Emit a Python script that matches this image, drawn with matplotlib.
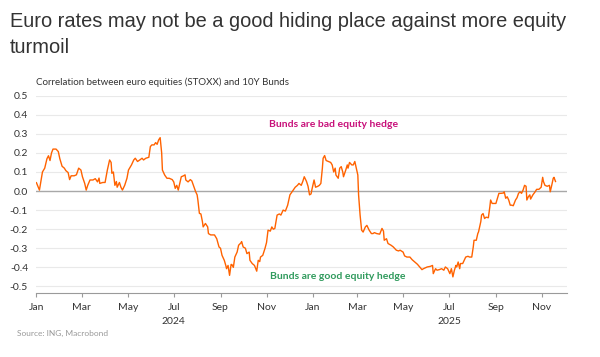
import matplotlib
matplotlib.use("Agg")
import matplotlib.pyplot as plt
import numpy as np
import pandas as pd

# correlation between STOXX and 10Y Bunds
# days counted from 1 Jan 2024
days = [0, 4, 8, 11, 14, 16, 18, 20, 22, 26, 29, 31, 34, 37, 39, 42, 44, 46, 50, 53,
        56, 59, 61, 64, 66, 68, 71, 75, 78, 81, 83, 84, 88, 91, 94, 97, 99, 100, 102, 104,
        106, 107, 110, 112, 114, 117, 120, 122, 126, 129, 131, 134, 137, 140, 142, 145, 149, 151, 153, 156,
        158, 160, 162, 164, 166, 167, 170, 173, 176, 180, 182, 184, 186, 188, 190, 192, 195, 197, 198, 201,
        204, 206, 209, 211, 213, 214, 216, 218, 220, 221, 224, 227, 228, 231, 234, 236, 239, 242, 244, 246,
        249, 251, 252, 254, 256, 258, 259, 261, 263, 266, 268, 271, 272, 274, 277, 279, 282, 283, 286, 289,
        290, 292, 294, 296, 297, 300, 303, 305, 307, 310, 312, 314, 316, 319, 322, 324, 327, 330, 333, 336,
        339, 343, 346, 348, 351, 353, 355, 358, 360, 362, 364, 365, 368, 370, 373, 375, 377, 379, 380, 382,
        384, 387, 390, 392, 394, 396, 397, 400, 402, 404, 406, 407, 410, 412, 413, 415, 418, 420, 422, 423,
        426, 427, 429, 431, 433, 436, 438, 441, 444, 446, 448, 451, 455, 458, 460, 461, 464, 466, 470, 473,
        477, 480, 482, 486, 488, 491, 495, 498, 501, 505, 508, 511, 513, 518, 522, 525, 526, 529, 531, 534,
        537, 540, 542, 545, 548, 550, 552, 554, 556, 557, 559, 561, 562, 565, 567, 569, 572, 574, 577, 579,
        580, 583, 585, 586, 589, 590, 592, 594, 596, 599, 601, 602, 604, 606, 609, 611, 613, 616, 619, 620,
        622, 624, 626, 628, 630, 632, 635, 637, 639, 641, 643, 645, 647, 649, 650, 652, 654, 655, 658, 661,
        663, 666, 669, 671, 672, 674, 677, 680, 681, 683, 685, 686, 688]
corr = [0.044, 0.005, 0.10, 0.12, 0.17, 0.185, 0.16, 0.20, 0.22, 0.22, 0.207, 0.17, 0.13, 0.12, 0.107, 0.097, 0.06, 0.08, 0.08, 0.085,
        0.12, 0.11, 0.075, 0.04, 0.005, 0.03, 0.058, 0.058, 0.065, 0.048, 0.068, 0.04, 0.045, 0.045, 0.11, 0.163, 0.15, 0.093, 0.10, 0.03,
        0.05, 0.02, 0.045, 0.02, 0.005, 0.03, 0.067, 0.11, 0.137, 0.163, 0.172, 0.155, 0.163, 0.172, 0.163, 0.172, 0.177, 0.233, 0.242, 0.242,
        0.254, 0.245, 0.268, 0.28, 0.20, 0.11, 0.084, 0.067, 0.067, 0.06, 0.048, 0.014, 0.03, 0.005, 0.04, 0.075, 0.08, 0.085, 0.058, 0.048,
        0.06, 0.053, 0.02, -0.003, -0.02, -0.047, -0.117, -0.12, -0.16, -0.188, -0.17, -0.188, -0.223, -0.23, -0.23, -0.23, -0.25, -0.293, -0.30, -0.337,
        -0.363, -0.39, -0.407, -0.39, -0.442, -0.385, -0.385, -0.40, -0.346, -0.32, -0.284, -0.272, -0.265, -0.293, -0.30, -0.328, -0.32, -0.363, -0.38, -0.39,
        -0.40, -0.42, -0.363, -0.37, -0.346, -0.337, -0.30, -0.27, -0.205, -0.21, -0.188, -0.2, -0.196, -0.126, -0.12, -0.126, -0.10, -0.105, -0.074, -0.02,
        -0.003, 0.02, 0.03, 0.04, 0.03, 0.05, 0.075, 0.05, 0.025, -0.02, -0.015, 0.005, 0.058, 0.02, 0.025, 0.03, 0.04, 0.12, 0.172, 0.186,
        0.16, 0.155, 0.15, 0.137, 0.10, 0.12, 0.084, 0.067, 0.12, 0.128, 0.10, 0.075, 0.11, 0.137, 0.12, 0.15, 0.137, 0.137, 0.155, 0.137,
        0.084, -0.02, -0.126, -0.205, -0.215, -0.188, -0.18, -0.205, -0.223, -0.223, -0.218, -0.223, -0.226, -0.196, -0.21, -0.258, -0.25, -0.275, -0.284, -0.293,
        -0.31, -0.314, -0.31, -0.32, -0.34, -0.346, -0.346, -0.36, -0.37, -0.384, -0.398, -0.412, -0.407, -0.398, -0.395, -0.39, -0.433, -0.407, -0.415, -0.412,
        -0.407, -0.415, -0.398, -0.407, -0.433, -0.407, -0.45, -0.415, -0.39, -0.398, -0.372, -0.407, -0.38, -0.38, -0.363, -0.346, -0.342, -0.346, -0.346, -0.293,
        -0.258, -0.258, -0.223, -0.214, -0.16, -0.126, -0.118, -0.144, -0.137, -0.14, -0.082, -0.047, -0.065, -0.065, -0.065, -0.038, -0.012, -0.012, -0.01, -0.004,
        -0.038, -0.03, -0.047, -0.074, -0.074, -0.077, -0.047, -0.035, -0.012, -0.004, -0.012, 0.005, 0.03, 0.025, -0.047, -0.03, -0.02, -0.042, -0.02, -0.004,
        0.009, 0.009, 0.02, 0.072, 0.05, 0.03, 0.025, 0.03, -0.004, 0.03, 0.067, 0.072, 0.05]

tick_dates = ["2024-01-01", "2024-03-01", "2024-05-01", "2024-07-01", "2024-09-01", "2024-11-01",
              "2025-01-01", "2025-03-01", "2025-05-01", "2025-07-01", "2025-09-01", "2025-11-01"]
tick_labels = ["Jan", "Mar", "May", "Jul\n2024", "Sep", "Nov",
               "Jan", "Mar", "May", "Jul\n2025", "Sep", "Nov"]
yticks = [-0.5, -0.4, -0.3, -0.2, -0.1, 0.0, 0.1, 0.2, 0.3, 0.4, 0.5]

title = "Euro rates may not be a good hiding place against more equity\nturmoil"
subtitle = "Correlation between euro equities (STOXX) and 10Y Bunds"
source = "Source: ING, Macrobond"

dates = pd.Timestamp("2024-01-01") + pd.to_timedelta(days, unit="D")

plt.rcParams["font.family"] = ["Lato", "DejaVu Sans"]

fig = plt.figure(figsize=(6, 3.57), dpi=100)
ax = fig.add_axes([0.0607, 0.179, 0.884, 0.553])

for y in yticks:
    if y != 0:
        ax.axhline(y, color="#e9e9e9", lw=0.8, zorder=0)
ax.axhline(0, color="#a8a8a8", lw=1.0, zorder=1)

ax.plot(dates, corr, color="#ff6200", lw=1.0, zorder=3)

ax.set_xlim(pd.Timestamp("2024-01-01"), pd.Timestamp("2025-12-04"))
ax.set_ylim(-0.535, 0.5)

ax.set_yticks(yticks)
ax.set_yticklabels([f"{v:.1f}" for v in yticks])
ax.set_xticks(pd.to_datetime(tick_dates))
ax.set_xticklabels(tick_labels)
for lbl in ax.get_xticklabels():
    lbl.set_linespacing(1.75)

for s in ["top", "right", "left"]:
    ax.spines[s].set_visible(False)
ax.spines["bottom"].set_color("#9a9a9a")
ax.spines["bottom"].set_linewidth(0.8)
ax.tick_params(axis="y", length=0, pad=6, labelsize=7.5, labelcolor="#333333")
ax.tick_params(axis="x", length=3, width=0.8, color="#9a9a9a", pad=4, labelsize=7.5, labelcolor="#333333")

ax.text(pd.Timestamp("2025-01-29"), 0.347, "Bunds are bad equity hedge", color="#c8107a",
        fontsize=7.5, fontweight="bold", ha="center", va="center")
ax.text(pd.Timestamp("2025-02-04"), -0.45, "Bunds are good equity hedge", color="#2f9a5c",
        fontsize=7.5, fontweight="bold", ha="center", va="center")

fig.text(0.017, 0.965, title, fontsize=14.4, color="#333333", family="Liberation Sans",
         ha="left", va="top", linespacing=1.45)
fig.text(0.06, 1 - 82 / 357, subtitle, fontsize=7, color="#333333", ha="left", va="center")
fig.text(0.028, 1 - 333 / 357, source, fontsize=6, color="#999999", ha="left", va="center")

fig.savefig("out.png", dpi=100)
